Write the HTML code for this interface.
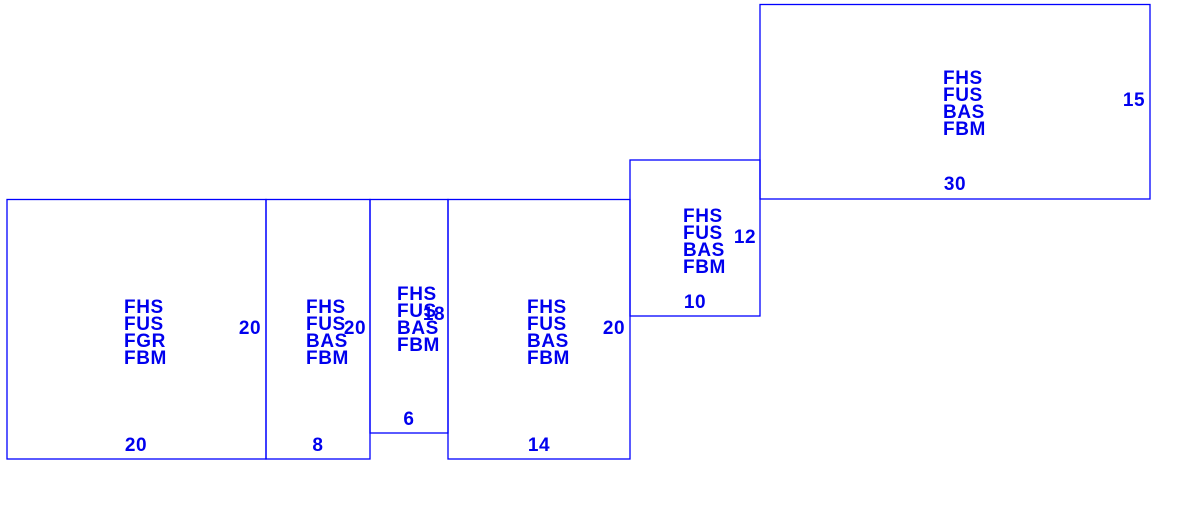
<!DOCTYPE html>
<html><head><meta charset="utf-8"><style>html,body{margin:0;padding:0;background:#fff;}svg{display:block;}</style></head>
<body>
<svg width="1194" height="505" xmlns="http://www.w3.org/2000/svg">
<g fill="none" stroke="#0000ff" stroke-width="1.3">
<rect x="7" y="199.5" width="259" height="259.5"/>
<rect x="266" y="199.5" width="104" height="259.5"/>
<rect x="370" y="199.5" width="78" height="233.5"/>
<rect x="448" y="199.5" width="182" height="259.5"/>
<rect x="630" y="160" width="130" height="156"/>
<rect x="760" y="4.5" width="390" height="194.5"/>
</g>
<g fill="#0000ee" font-family="Liberation Sans, Arial, sans-serif" font-weight="bold" font-size="19" letter-spacing="0.6">
<text x="124" y="313">FHS</text><text x="124" y="330">FUS</text><text x="124" y="347">FGR</text><text x="124" y="364">FBM</text>
<text x="306" y="313">FHS</text><text x="306" y="330">FUS</text><text x="306" y="347">BAS</text><text x="306" y="364">FBM</text>
<text x="397" y="300">FHS</text><text x="397" y="317">FUS</text><text x="397" y="334">BAS</text><text x="397" y="351">FBM</text>
<text x="527" y="313">FHS</text><text x="527" y="330">FUS</text><text x="527" y="347">BAS</text><text x="527" y="364">FBM</text>
<text x="683" y="222">FHS</text><text x="683" y="239">FUS</text><text x="683" y="256">BAS</text><text x="683" y="273">FBM</text>
<text x="943" y="84">FHS</text><text x="943" y="101">FUS</text><text x="943" y="118">BAS</text><text x="943" y="135">FBM</text>
<g text-anchor="middle">
<text x="250" y="334">20</text><text x="136" y="451">20</text>
<text x="355" y="334">20</text><text x="318" y="451">8</text>
<text x="434" y="320">18</text><text x="409" y="425">6</text>
<text x="614" y="334">20</text><text x="539" y="451">14</text>
<text x="745" y="243">12</text><text x="695" y="308">10</text>
<text x="1134" y="106">15</text><text x="955" y="190">30</text>
</g>
</g>
</svg>
</body></html>
